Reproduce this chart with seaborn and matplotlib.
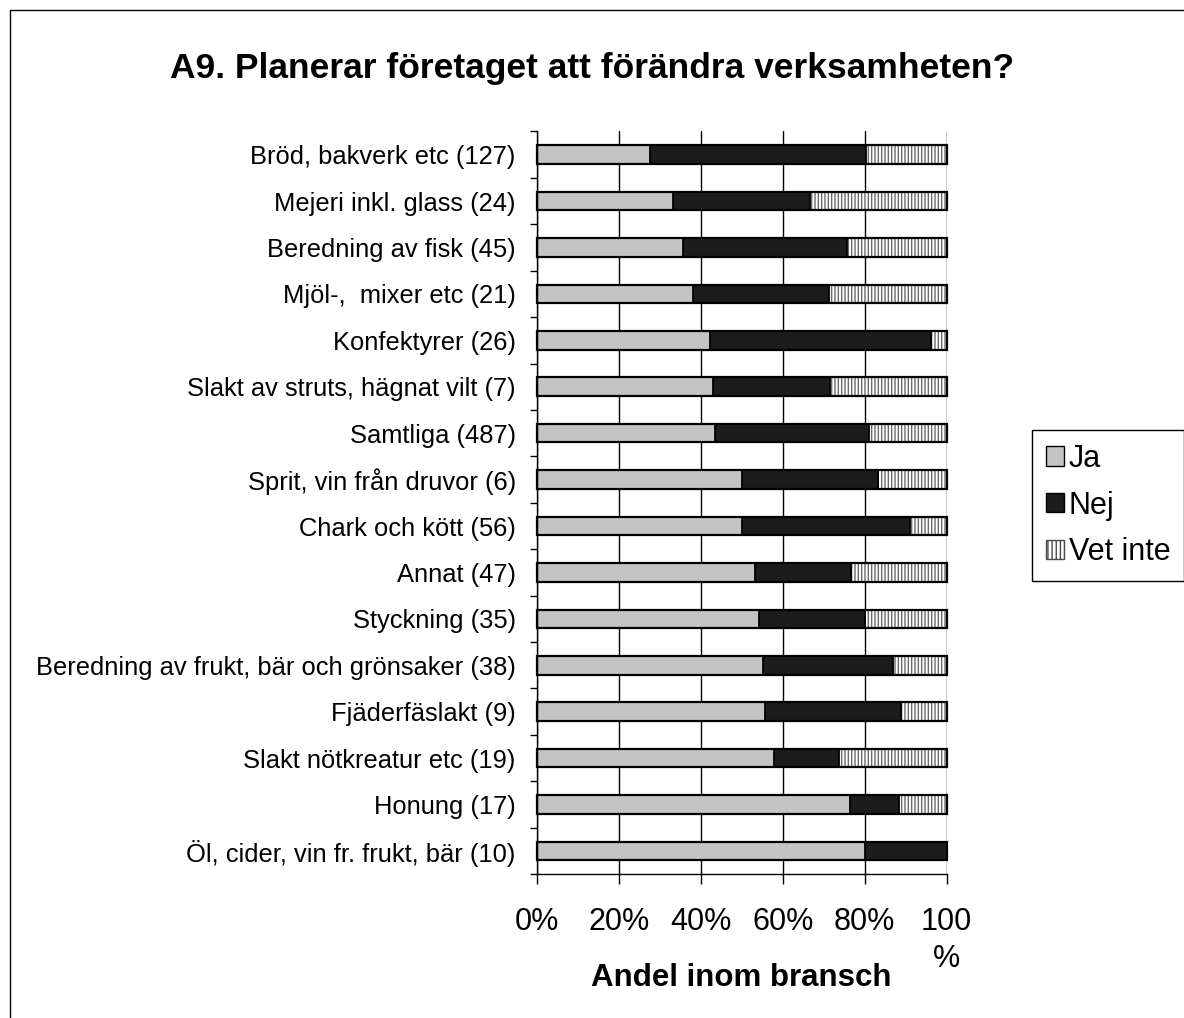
import numpy as np
import pandas as pd
import matplotlib
matplotlib.use('Agg')
import matplotlib.pyplot as plt
import seaborn as sns
from matplotlib.patches import Patch, Rectangle

branscher = ['Bröd, bakverk etc (127)', 'Mejeri inkl. glass (24)', 'Beredning av fisk (45)',
             'Mjöl-,  mixer etc (21)', 'Konfektyrer (26)', 'Slakt av struts, hägnat vilt (7)',
             'Samtliga (487)', 'Sprit, vin från druvor (6)', 'Chark och kött (56)', 'Annat (47)',
             'Styckning (35)', 'Beredning av frukt, bär och grönsaker (38)', 'Fjäderfäslakt (9)',
             'Slakt nötkreatur etc (19)', 'Honung (17)', 'Öl, cider, vin fr. frukt, bär (10)']
ja = [27.6, 33.3, 35.6, 38.1, 42.3, 42.9, 43.6, 50.0, 50.0, 53.2, 54.3, 55.3, 55.6, 57.9, 76.5, 80.0]
nej = [52.8, 33.3, 40.0, 33.3, 53.8, 28.6, 37.4, 33.3, 41.1, 23.4, 25.7, 31.6, 33.3, 15.8, 11.8, 20.0]
vet_inte = [19.6, 33.4, 24.4, 28.6, 3.9, 28.5, 19.0, 16.7, 8.9, 23.4, 20.0, 13.1, 11.1, 26.3, 11.7, 0.0]

x_ticks = [0, 20, 40, 60, 80, 100]
x_tick_labels = ['0%', '20%', '40%', '60%', '80%', '100\n%']
svar = ['Ja', 'Nej', 'Vet inte']

sns.set_style('white')
plt.rcParams['font.family'] = ['Liberation Sans', 'DejaVu Sans']
plt.rcParams['hatch.linewidth'] = 1.0
plt.rcParams['text.color'] = 'black'
plt.rcParams['axes.labelcolor'] = 'black'
plt.rcParams['xtick.color'] = 'black'
plt.rcParams['ytick.color'] = 'black'

df = pd.DataFrame({'bransch': branscher, 'Ja': ja, 'Nej': nej, 'Vet inte': vet_inte})
df['ja_nej'] = df['Ja'] + df['Nej']
df['totalt'] = df['ja_nej'] + df['Vet inte']

fig = plt.figure(figsize=(11.84, 10.18), dpi=100)
ax = fig.add_axes([0.4533, 0.1413, 0.3463, 0.7296])

# staplade staplar: ritas som kumulativa summor, längst först
bar_kw = dict(y='bransch', width=0.4, saturation=1, errorbar=None, ax=ax)
sns.barplot(data=df, x='totalt', color='white', edgecolor='#6a6a6a', linewidth=0,
            hatch='|||||', **bar_kw)
sns.barplot(data=df, x='ja_nej', color='#1c1c1c', edgecolor='black', linewidth=1.3, **bar_kw)
sns.barplot(data=df, x='Ja', color='#c4c4c4', edgecolor='black', linewidth=1.3, **bar_kw)
sns.barplot(data=df, x='totalt', color='black', fill=False, linewidth=1.6, clip_on=False, **bar_kw)

ax.set_xlim(0, 100)
ax.set_ylim(15.5, -0.5)
ax.grid(True, axis='x', color='black', linewidth=1)
ax.set_axisbelow(True)

ax.set_xticks(x_ticks, x_tick_labels)
ax.tick_params(axis='x', bottom=True, length=7, width=1, direction='out', pad=17,
               labelsize=22, colors='black')
for lbl in ax.get_xticklabels():
    lbl.set_linespacing(1.3)
ax.tick_params(axis='y', which='major', left=False, length=0, pad=15, labelsize=18.4)
ax.set_yticks(np.arange(-0.5, 16, 1), minor=True)
ax.tick_params(axis='y', which='minor', left=True, length=5, width=1, direction='out', color='black')

for side in ['top', 'right']:
    ax.spines[side].set_visible(False)
for side in ['left', 'bottom']:
    ax.spines[side].set_color('black')
    ax.spines[side].set_linewidth(1)

ax.set_ylabel('')
ax.set_xlabel('Andel inom bransch', fontsize=22.5, fontweight='bold')
ax.xaxis.set_label_coords(0.5, -0.1395)
ax.xaxis.label.set_verticalalignment('center')

fig.text(0.5, 0.933, 'A9. Planerar företaget att förändra verksamheten?',
         ha='center', va='center', fontsize=25.5, fontweight='bold')

handles = [Patch(facecolor='#c4c4c4', edgecolor='black'),
           Patch(facecolor='#1c1c1c', edgecolor='black'),
           Patch(facecolor='white', edgecolor='#4a4a4a', hatch='||||')]
leg = fig.legend(handles, svar, loc='upper left', bbox_to_anchor=(0.8716, 0.5776),
                 fontsize=22, frameon=True, fancybox=False, edgecolor='black', framealpha=1,
                 handlelength=0.6, handleheight=0.6, handletextpad=0.15,
                 labelspacing=0.55, borderpad=0.45, borderaxespad=0)
leg.get_frame().set_linewidth(1)

fig.add_artist(Rectangle((10 / 1184, -0.05), 1.2, 1 - 10 / 1018 + 0.05,
                         transform=fig.transFigure, fill=False, edgecolor='black', linewidth=1))

fig.savefig('out.png', dpi=100)
